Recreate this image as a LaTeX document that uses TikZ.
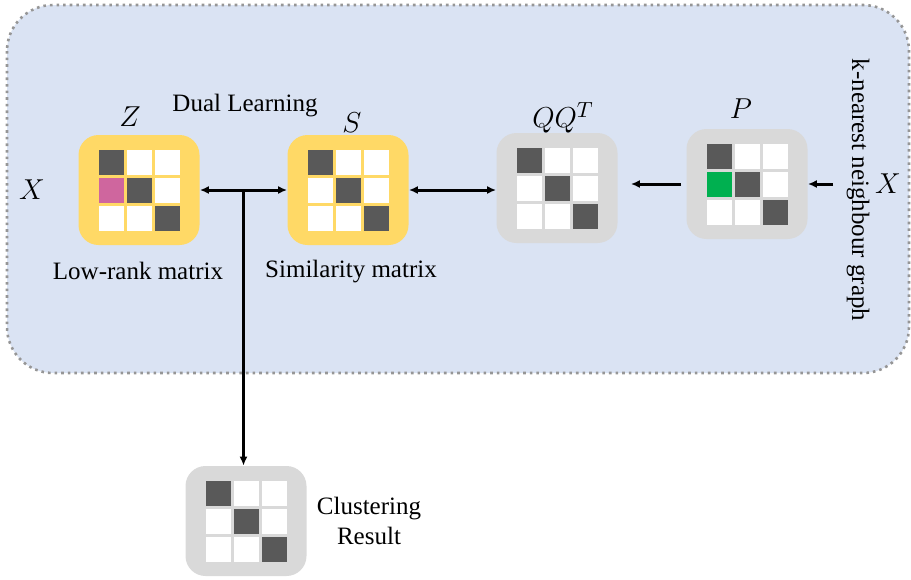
\documentclass[tikz,border=0pt]{standalone}
\usepackage{fontspec}
\setmainfont{Liberation Serif}
\usepackage{tikz}
\usetikzlibrary{arrows.meta,positioning,calc}
\usepackage{xcolor}
\definecolor{panelblue}{RGB}{218,227,243}
\definecolor{dotgray}{RGB}{150,150,150}
\definecolor{matyellow}{RGB}{255,217,102}
\definecolor{matgray}{RGB}{217,217,217}
\definecolor{celldark}{RGB}{89,89,89}
\definecolor{cellpink}{RGB}{207,102,158}
\definecolor{cellgreen}{RGB}{0,176,80}

\begin{document}
\begin{tikzpicture}[x=.5pt,y=-.5pt,font=\fontsize{12.5}{15}\selectfont,
  matbox/.style={fill=#1,rounded corners=10pt,minimum width=60.5pt,minimum height=55pt,inner sep=0pt},
  sym/.style={font=\fontsize{15.5}{18}\selectfont},
  link/.style={line width=1.5pt,-{Latex[length=4.5pt,width=4pt]}},
  dlink/.style={line width=1.5pt,{Latex[length=4.5pt,width=4pt]}-{Latex[length=4.5pt,width=4pt]}}]
\useasboundingbox (0,0) rectangle (911,579);
% panel
\draw[fill=panelblue,draw=dotgray,line width=1.3pt,dotted,rounded corners=23pt] (7,5) rectangle (909,373);
% matrices
\node[matbox=matyellow] (Z) at (139,190) {};
\node[matbox=matyellow] (S) at (348,190) {};
\node[matbox=matgray] (QQ) at (557,188) {};
\node[matbox=matgray] (P) at (747,184) {};
\node[matbox=matgray] (C) at (246,521) {};
\foreach \b/\c in {Z/cellpink,S/white,QQ/white,P/cellgreen,C/white} {
  \foreach \i in {0,1,2} \foreach \j in {0,1,2}
    \fill[white] ($(\b)+(\i*28-40.5,\j*28-40.5)$) rectangle +(25,25);
  \foreach \i in {0,1,2}
    \fill[celldark] ($(\b)+(\i*28-40.5,\i*28-40.5)$) rectangle +(25,25);
  \fill[\c] ($(\b)+(-40.5,-12.5)$) rectangle +(25,25);}
% labels
\node[sym] (Zl) at (130,117) {$Z$};
\node[sym] (Sl) at (352,123) {$S$};
\node[sym] (QQl) at (563,118) {$QQ^T$};
\node[sym] (Pl) at (741,109) {$P$};
\node (dual) at (245,106) {Dual Learning};
\node[sym] (Xl) at (32,190) {$X$};
\node[sym] (Xr) at (888,184) {$X$};
\node (lowrank) at (138,271) {Low-rank matrix};
\node (simil) at (351,272) {Similarity matrix};
\node[rotate=-90] (knn) at (858,190) {k-nearest neighbour graph};
\node[align=center] (clus) at (369,521) {Clustering\\Result};
% connectors
\coordinate (J) at ($(Z.east)!.5!(S.west)$);
\draw[dlink] (Z.east) -- (S.west);
\draw[link] (J) -- (J |- C.north);
\draw[dlink] (S.east) -- (S.east -| QQ.west);
\draw[link,shorten <=2.5pt,shorten >=6.5pt] (P.west) -- (P.west -| QQ.east);
\draw[link,shorten <=17.5pt] (Xr.west) -- (P.east);
\end{tikzpicture}
\end{document}
